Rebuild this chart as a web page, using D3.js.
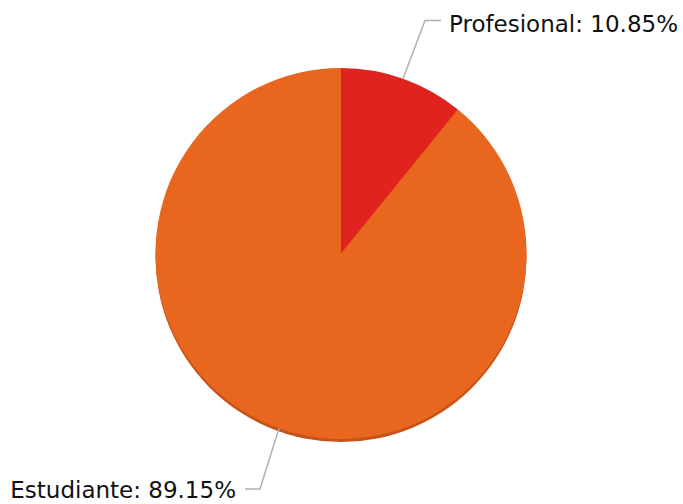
<!DOCTYPE html>
<html>
<head>
<meta charset="utf-8">
<script src="https://cdn.jsdelivr.net/npm/d3@7"></script>
<style>
  html, body { margin: 0; padding: 0; background: #fff; }
  svg { display: block; }
</style>
</head>
<body>
<svg id="chart" width="683" height="504"></svg>
<script>
// Occupation split
const categories = ["Profesional", "Estudiante"];
const values = [10.85, 89.15];
const colors = ["#E1231F", "#E8661D"];

const width = 683, height = 504;
const cx = 341, cy = 253.5, radius = 185.5;

const svg = d3.select("#chart");

const defs = svg.append("defs");
const shadow = defs.append("filter").attr("id", "pieShadow")
  .attr("x", "-10%").attr("y", "-10%").attr("width", "120%").attr("height", "120%");
shadow.append("feGaussianBlur").attr("stdDeviation", 0.7);

const data = categories.map((c, i) => ({ name: c, value: values[i], color: colors[i] }));

const pie = d3.pie().value(d => d.value).sort(null);
const arcs = pie(data);
const arc = d3.arc().innerRadius(0).outerRadius(radius);

const g = svg.append("g").attr("transform", `translate(${cx},${cy})`);

// Darker rim under the pie
g.append("circle")
  .attr("cx", 0).attr("cy", 3).attr("r", radius)
  .attr("fill", "#C4521A")
  .attr("filter", "url(#pieShadow)");

g.selectAll("path.slice")
  .data(arcs)
  .join("path")
  .attr("class", "slice")
  .attr("d", arc)
  .attr("fill", d => d.data.color);

// Leader lines and labels
const labelArc = d3.arc().innerRadius(radius).outerRadius(radius);
const layout = [
  { elbow: [425, 20.5], end: [441, 20.5], anchor: "start", tx: 449, ty: 32 },
  { elbow: [260, 489], end: [245, 489], anchor: "end", tx: 236, ty: 498 }
];

arcs.forEach((a, i) => {
  const p = labelArc.centroid(a);
  const L = layout[i];
  const pts = [[cx + p[0], cy + p[1]], L.elbow, L.end];
  svg.append("path")
    .attr("d", d3.line()(pts))
    .attr("fill", "none")
    .attr("stroke", "#B0B0B0")
    .attr("stroke-width", 1.5);
  svg.append("text")
    .attr("x", L.tx).attr("y", L.ty)
    .attr("text-anchor", L.anchor)
    .attr("font-family", "DejaVu Sans, sans-serif")
    .attr("font-size", 23)
    .attr("fill", "#111")
    .text(`${a.data.name}: ${d3.format(".2f")(a.data.value)}%`);
});
</script>
</body>
</html>
